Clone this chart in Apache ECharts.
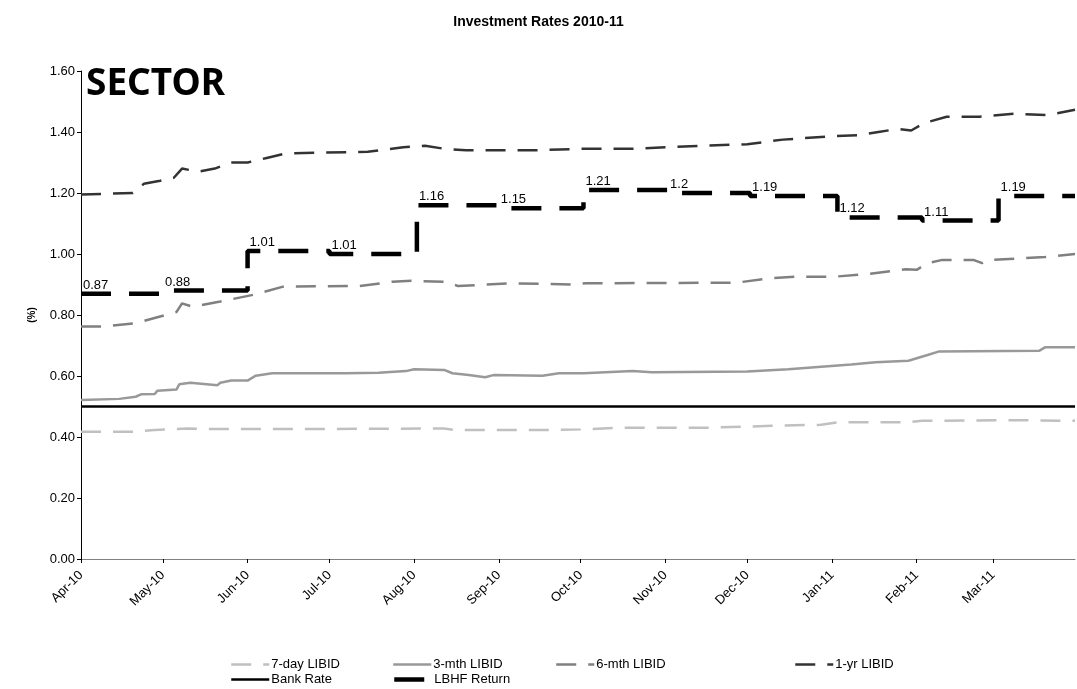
<!DOCTYPE html>
<html>
<head>
<meta charset="utf-8">
<title>Investment Rates 2010-11</title>
<script src="https://cdn.jsdelivr.net/npm/echarts@6/dist/echarts.min.js"></script>
<style>
    html, body { margin: 0; padding: 0; background: #fff; }
    #chart { width: 1077px; height: 689px; }
</style>
</head>
<body>
<div id="chart"></div>
<script>
    // series data, [date, rate %]
    const day7 = [
        ['2010-04-01', 0.417], ['2010-04-20', 0.417], ['2010-04-28', 0.423], ['2010-05-10', 0.428],
        ['2010-05-20', 0.426], ['2010-06-10', 0.426], ['2010-07-20', 0.427], ['2010-08-12', 0.428],
        ['2010-08-16', 0.423], ['2010-09-20', 0.423], ['2010-10-01', 0.425], ['2010-10-15', 0.43],
        ['2010-11-15', 0.43], ['2010-12-01', 0.434], ['2010-12-10', 0.437], ['2010-12-28', 0.44],
        ['2011-01-03', 0.448], ['2011-01-28', 0.448], ['2011-02-03', 0.453], ['2011-03-10', 0.455],
        ['2011-03-31', 0.453]
    ];
    const mth3 = [
        ['2010-04-01', 0.521], ['2010-04-15', 0.525], ['2010-04-21', 0.532], ['2010-04-23', 0.54],
        ['2010-04-28', 0.541], ['2010-04-29', 0.552], ['2010-05-06', 0.556], ['2010-05-07', 0.573],
        ['2010-05-11', 0.578], ['2010-05-21', 0.57], ['2010-05-22', 0.578], ['2010-05-26', 0.585],
        ['2010-06-01', 0.585], ['2010-06-04', 0.601], ['2010-06-10', 0.609], ['2010-07-07', 0.609],
        ['2010-07-19', 0.611], ['2010-07-29', 0.616], ['2010-08-01', 0.622], ['2010-08-12', 0.62],
        ['2010-08-15', 0.609], ['2010-08-21', 0.603], ['2010-08-27', 0.596], ['2010-08-30', 0.603],
        ['2010-09-17', 0.601], ['2010-09-23', 0.609], ['2010-10-02', 0.609], ['2010-10-20', 0.616],
        ['2010-10-27', 0.612], ['2010-12-01', 0.615], ['2010-12-16', 0.622], ['2011-01-08', 0.638],
        ['2011-01-17', 0.645], ['2011-01-29', 0.65], ['2011-02-05', 0.669], ['2011-02-09', 0.68],
        ['2011-03-18', 0.683], ['2011-03-20', 0.694], ['2011-03-31', 0.694]
    ];
    const mth6 = [
        ['2010-04-01', 0.762], ['2010-04-09', 0.762], ['2010-04-21', 0.773], ['2010-05-02', 0.80],
        ['2010-05-06', 0.81], ['2010-05-08', 0.838], ['2010-05-12', 0.827], ['2010-05-22', 0.844],
        ['2010-06-03', 0.866], ['2010-06-14', 0.893], ['2010-07-12', 0.895], ['2010-07-24', 0.909],
        ['2010-07-31', 0.912], ['2010-08-13', 0.909], ['2010-08-17', 0.895], ['2010-09-06', 0.904],
        ['2010-09-28', 0.90], ['2010-10-03', 0.904], ['2010-11-27', 0.906], ['2010-12-09', 0.92],
        ['2010-12-20', 0.926], ['2011-01-01', 0.925], ['2011-01-15', 0.935], ['2011-01-28', 0.95],
        ['2011-02-01', 0.948], ['2011-02-05', 0.97], ['2011-02-10', 0.98], ['2011-02-22', 0.98],
        ['2011-02-25', 0.97], ['2011-02-27', 0.98], ['2011-03-10', 0.985], ['2011-03-20', 0.99],
        ['2011-03-31', 1.0]
    ];
    const yr1 = [
        ['2010-04-01', 1.195], ['2010-04-20', 1.20], ['2010-04-24', 1.23], ['2010-04-30', 1.24],
        ['2010-05-05', 1.25], ['2010-05-08', 1.28], ['2010-05-14', 1.27], ['2010-05-20', 1.28],
        ['2010-05-26', 1.30], ['2010-06-01', 1.30], ['2010-06-08', 1.315], ['2010-06-15', 1.33],
        ['2010-07-15', 1.335], ['2010-07-28', 1.35], ['2010-08-05', 1.355], ['2010-08-12', 1.345],
        ['2010-08-20', 1.34], ['2010-09-15', 1.34], ['2010-10-01', 1.345], ['2010-10-20', 1.345],
        ['2010-11-01', 1.35], ['2010-11-15', 1.355], ['2010-12-01', 1.36], ['2010-12-14', 1.375],
        ['2010-12-30', 1.385], ['2011-01-11', 1.39], ['2011-01-18', 1.40], ['2011-01-25', 1.41],
        ['2011-01-30', 1.405], ['2011-02-04', 1.43], ['2011-02-12', 1.45], ['2011-02-24', 1.45],
        ['2011-03-09', 1.46], ['2011-03-21', 1.455], ['2011-03-31', 1.473]
    ];
    const bankRate = [['2010-04-01', 0.5], ['2011-03-31', 0.5]];

    // LBHF return: monthly steps, value and the label printed at each change
    const lbhfDates  = ['2010-04-01', '2010-05-01', '2010-06-01', '2010-07-01', '2010-08-02', '2010-09-01',
                        '2010-10-02', '2010-11-02', '2010-12-02', '2011-01-03', '2011-02-03', '2011-03-03', '2011-03-31'];
    const lbhfValues = [0.87, 0.88, 1.01, 1.00, 1.16, 1.15, 1.21, 1.20, 1.19, 1.12, 1.11, 1.19, 1.19];
    const lbhfLabels = ['0.87', '0.88', '1.01', '1.01', '1.16', '1.15', '1.21', '1.2', '1.19', '1.12', '1.11', '1.19', ''];

    const yTicks = [0, 0.2, 0.4, 0.6, 0.8, 1.0, 1.2, 1.4, 1.6];
    const monthNames = ['Jan', 'Feb', 'Mar', 'Apr', 'May', 'Jun', 'Jul', 'Aug', 'Sep', 'Oct', 'Nov', 'Dec'];

    const FONT = 'Arial, "Liberation Sans", sans-serif';
    const DAY = 86400000;

    const chart = echarts.init(document.getElementById('chart'));
    window.onresize = function () {
        chart.resize();
    }

    const lbhfData = lbhfDates.map(function (d, i) {
        return {
            value: [d, lbhfValues[i]],
            label: { show: lbhfLabels[i] !== '', formatter: lbhfLabels[i] }
        };
    });

    // one legend per entry, laid out like the original two rows
    function legendAt(name, left, top) {
        return {
            data: [name],
            left: left,
            top: top,
            itemWidth: 38,
            itemHeight: 12,
            itemGap: 0,
            padding: 0,
            selectedMode: false,
            itemStyle: { opacity: 0 },
            lineStyle: { width: 'inherit' },
            textStyle: { fontFamily: FONT, fontSize: 13, color: '#000', padding: [0, 0, 0, -3] }
        };
    }

    chart.setOption({
        animation: false,
        backgroundColor: '#fff',
        title: {
            text: 'Investment Rates 2010-11',
            left: 'center',
            top: 10,
            textStyle: { fontFamily: FONT, fontSize: 14, fontWeight: 'bold', color: '#000' }
        },
        graphic: [{
            type: 'text',
            left: 86,
            top: 66,
            style: { text: 'SECTOR', font: 'bold 37px "Noto Sans", sans-serif', fill: '#000' }
        }],
        legend: [
            legendAt('7-day LIBID', 230, 658),
            legendAt('3-mth LIBID', 392, 658),
            legendAt('6-mth LIBID', 555, 658),
            legendAt('1-yr LIBID', 794, 658),
            legendAt('Bank Rate', 230, 673),
            legendAt('LBHF Return', 392, 673)
        ],
        grid: { left: 81, right: 2, top: 71, bottom: 130 },
        xAxis: {
            type: 'time',
            min: '2010-04-01',
            max: '2011-03-31',
            minInterval: 28 * DAY,
            maxInterval: 31 * DAY,
            splitNumber: 12,
            axisLine: { lineStyle: { color: '#808080', width: 1 } },
            axisTick: { show: true, length: 4, lineStyle: { color: '#000' } },
            splitLine: { show: false },
            axisLabel: {
                rotate: 45,
                margin: 14,
                showMinLabel: true,
                showMaxLabel: false,
                hideOverlap: false,
                fontFamily: FONT,
                fontSize: 13,
                color: '#000',
                formatter: function (val) {
                    const d = new Date(val);
                    return monthNames[d.getMonth()] + '-' + String(d.getFullYear()).slice(2);
                }
            }
        },
        yAxis: {
            type: 'value',
            min: yTicks[0],
            max: yTicks[yTicks.length - 1],
            interval: 0.2,
            name: '(%)',
            nameLocation: 'middle',
            nameRotate: 90,
            nameGap: 44,
            nameTextStyle: { fontFamily: FONT, fontSize: 10, fontWeight: 'bold', color: '#000' },
            axisLine: { show: true, lineStyle: { color: '#000', width: 1 } },
            axisTick: { show: true, length: 4, lineStyle: { color: '#000' } },
            splitLine: { show: false },
            axisLabel: {
                fontFamily: FONT,
                fontSize: 13,
                color: '#000',
                margin: 6,
                formatter: function (v) { return v.toFixed(2); }
            }
        },
        series: [
            {
                name: '7-day LIBID', type: 'line', data: day7, symbol: 'none',
                itemStyle: { color: '#c0c0c0' },
                lineStyle: { color: '#c0c0c0', width: 2.5, type: [20, 12] }
            },
            {
                name: '3-mth LIBID', type: 'line', data: mth3, symbol: 'none',
                itemStyle: { color: '#999999' },
                lineStyle: { color: '#999999', width: 2.5, type: 'solid' }
            },
            {
                name: '6-mth LIBID', type: 'line', data: mth6, symbol: 'none',
                itemStyle: { color: '#808080' },
                lineStyle: { color: '#808080', width: 2.5, type: [20, 12] }
            },
            {
                name: '1-yr LIBID', type: 'line', data: yr1, symbol: 'none',
                itemStyle: { color: '#333333' },
                lineStyle: { color: '#333333', width: 2.5, type: [20, 12] }
            },
            {
                name: 'Bank Rate', type: 'line', data: bankRate, symbol: 'none',
                itemStyle: { color: '#000' },
                lineStyle: { color: '#000', width: 2.5, type: 'solid' }
            },
            {
                name: 'LBHF Return', type: 'line', data: lbhfData, step: 'end',
                symbol: 'circle', symbolSize: 0.01, showSymbol: true,
                itemStyle: { color: '#000' },
                lineStyle: { color: '#000', width: 4.5, type: [30, 18] },
                label: {
                    position: [2, -15],
                    fontFamily: FONT,
                    fontSize: 13,
                    color: '#000'
                },
                labelLayout: { hideOverlap: false }
            }
        ]
    });
</script>
</body>
</html>
